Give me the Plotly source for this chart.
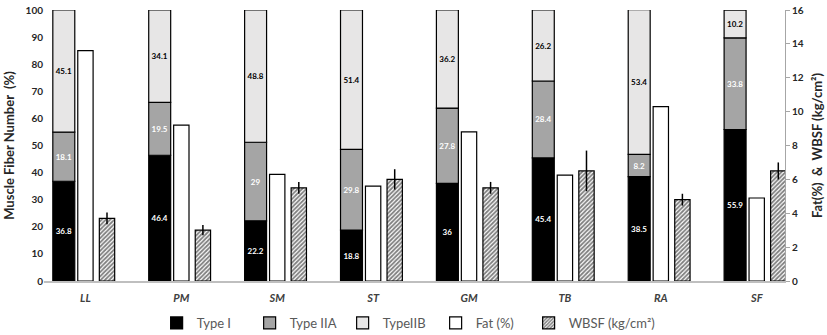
import plotly.graph_objects as go

categories = ["LL", "PM", "SM", "ST", "GM", "TB", "RA", "SF"]
type_i = [36.8, 46.4, 22.2, 18.8, 36.0, 45.4, 38.5, 55.9]
type_iia = [18.1, 19.5, 29.0, 29.8, 27.8, 28.4, 8.2, 33.8]
type_iib = [45.1, 34.1, 48.8, 51.4, 36.2, 26.2, 53.4, 10.2]
fat = [13.6, 9.2, 6.3, 5.6, 8.8, 6.25, 10.3, 4.9]
wbsf = [3.7, 3.0, 5.5, 6.0, 5.5, 6.5, 4.8, 6.5]
wbsf_err = [0.35, 0.3, 0.35, 0.6, 0.35, 1.2, 0.35, 0.5]
left_ticks = list(range(0, 101, 10))
right_ticks = list(range(0, 17, 2))

FONT = "Lato"
base_iia = type_i
base_iib = [a + b for a, b in zip(type_i, type_iia)]

fig = go.Figure()
SW, SO = 0.229, -0.34
line = dict(color="#000000", width=1.2)


def fmt(v):
    return ("%g" % v)


fig.add_trace(go.Bar(
    x=categories, y=type_i, base=[0] * 8, width=SW, offset=SO, name="Type I",
    marker=dict(color="#000000", line=line),
    text=[fmt(v) for v in type_i], textposition="inside", insidetextanchor="middle",
    textangle=0, constraintext="none",
    textfont=dict(color="#ffffff", size=8, family=FONT, weight="bold"),
))
fig.add_trace(go.Bar(
    x=categories, y=type_iia, base=base_iia, width=SW, offset=SO, name="Type IIA",
    marker=dict(color="#a5a5a5", line=line),
    text=[fmt(v) for v in type_iia], textposition="inside", insidetextanchor="middle",
    textangle=0, constraintext="none",
    textfont=dict(color="#ffffff", size=8, family=FONT, weight="bold"),
))
fig.add_trace(go.Bar(
    x=categories, y=type_iib, base=base_iib, width=SW, offset=SO, name="TypeIIB",
    marker=dict(color="#e7e6e6", line=line),
    text=[fmt(v) for v in type_iib], textposition="inside", insidetextanchor="middle",
    textangle=0, constraintext="none",
    textfont=dict(color="#000000", size=8, family=FONT, weight="bold"),
))
fig.add_trace(go.Bar(
    x=categories, y=fat, width=0.16, offset=-0.08, name="Fat (%)", yaxis="y2",
    marker=dict(color="#ffffff", line=line),
))
fig.add_trace(go.Bar(
    x=categories, y=wbsf, width=0.16, offset=0.145, name="WBSF (kg/cm²)", yaxis="y2",
    marker=dict(color="#ffffff", line=line,
                pattern=dict(shape="/", fgcolor="#000000", bgcolor="#ffffff",
                             size=3, solidity=0.6)),
    error_y=dict(type="data", array=wbsf_err, visible=True, color="#000000",
                 thickness=1.5, width=0),
))
# invisible spacer entry so the last legend label is not clipped
fig.add_trace(go.Bar(
    x=[categories[0]], y=[0], name=" ", yaxis="y2", hoverinfo="skip",
    marker=dict(color="rgba(0,0,0,0)", line=dict(width=0)),
))

fig.update_layout(
    width=827, height=335,
    margin=dict(l=44, r=42, t=10, b=54, autoexpand=False),
    barmode="overlay",
    plot_bgcolor="#ffffff", paper_bgcolor="#ffffff",
    font=dict(family=FONT, color="#262626"),
    showlegend=True,
    legend=dict(orientation="h", x=0.152, xanchor="left", y=-0.155, yanchor="middle",
                entrywidth=48, traceorder="normal",
                font=dict(size=13, color="#595959", family=FONT)),
    xaxis=dict(range=[-0.432, 7.295], showgrid=False, showline=True,
               linecolor="#bfbfbf", linewidth=1.5, ticks="", ticklabelstandoff=6,
               tickfont=dict(size=11, family=FONT, color="#404040", style="italic", weight="bold"),
               zeroline=False),
    yaxis=dict(range=[0, 100], tickvals=left_ticks, showgrid=False, showline=False,
               ticks="", zeroline=False,
               tickfont=dict(size=10, family=FONT, weight="bold", color="#262626"),
               title=dict(text="Muscle Fiber Number  (%)", standoff=8,
                          font=dict(size=13, family=FONT, weight="bold", color="#262626"))),
    yaxis2=dict(range=[0, 16], tickvals=right_ticks, overlaying="y", side="right",
                showgrid=False, showline=True, linecolor="#a6a6a6", linewidth=1,
                ticks="outside", ticklen=4, tickcolor="#a6a6a6", zeroline=False,
                tickfont=dict(size=10, family=FONT, weight="bold", color="#262626"),
                title=dict(text="Fat(%)  &  WBSF (kg/cm²)", standoff=10,
                           font=dict(size=13, family=FONT, weight="bold", color="#262626"))),
)

fig.write_html("out.html")
